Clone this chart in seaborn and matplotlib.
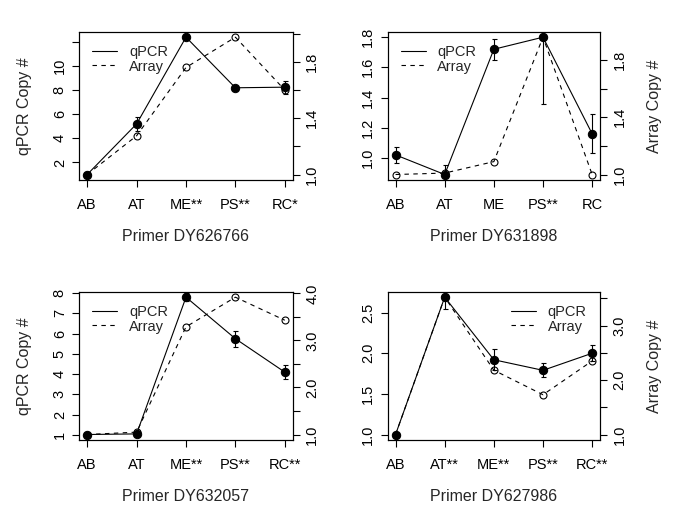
import numpy as np
import pandas as pd
import matplotlib
matplotlib.use("Agg")
import matplotlib.pyplot as plt
from matplotlib.lines import Line2D
import seaborn as sns

sns.set_style("white")
plt.rcParams['font.family'] = ['Liberation Sans', 'DejaVu Sans']

# ---------------- data ----------------
groups = ["AB", "AT", "ME", "PS", "RC"]

titles = ["Primer DY626766", "Primer DY631898", "Primer DY632057", "Primer DY627986"]

xlabels_1 = ["AB", "AT", "ME**", "PS**", "RC*"]
xlabels_2 = ["AB", "AT", "ME", "PS**", "RC"]
xlabels_3 = ["AB", "AT", "ME**", "PS**", "RC**"]
xlabels_4 = ["AB", "AT**", "ME**", "PS**", "RC**"]

qpcr_1 = [1.0, 5.2, 12.4, 8.2, 8.25]
qpcr_se_1 = [0.02, 0.6, 0.25, 0.1, 0.55]
array_1 = [1.0, 1.275, 1.76, 1.975, 1.6]

qpcr_2 = [1.02, 0.89, 1.72, 1.80, 1.16]
qpcr_se_2 = [0.055, 0.06, 0.07, 0.44, 0.13]
array_2 = [1.0, 1.01, 1.09, 1.96, 1.0]

qpcr_3 = [1.02, 1.05, 7.8, 5.75, 4.1]
qpcr_se_3 = [0.03, 0.1, 0.2, 0.4, 0.33]
array_3 = [1.0, 1.05, 3.29, 3.92, 3.43]

qpcr_4 = [1.0, 2.69, 1.92, 1.79, 2.0]
qpcr_se_4 = [0.01, 0.14, 0.13, 0.085, 0.1]
array_4 = [1.0, 3.52, 2.18, 1.73, 2.35]

# axis ticks and their labels ('' = tick without label)
lticks_1 = [2, 4, 6, 8, 10, 12]
lticklabels_1 = ["2", "4", "6", "8", "10", ""]
rticks_1 = [1.0, 1.2, 1.4, 1.6, 1.8, 2.0]
rticklabels_1 = ["1.0", "", "1.4", "", "1.8", ""]

lticks_2 = [1.0, 1.2, 1.4, 1.6, 1.8]
lticklabels_2 = ["1.0", "1.2", "1.4", "1.6", "1.8"]
rticks_2 = [1.0, 1.2, 1.4, 1.6, 1.8]
rticklabels_2 = ["1.0", "", "1.4", "", "1.8"]

lticks_3 = [1, 2, 3, 4, 5, 6, 7, 8]
lticklabels_3 = ["1", "2", "3", "4", "5", "6", "7", "8"]
rticks_3 = [1.0, 1.5, 2.0, 2.5, 3.0, 3.5, 4.0]
rticklabels_3 = ["1.0", "", "2.0", "", "3.0", "", "4.0"]

lticks_4 = [1.0, 1.5, 2.0, 2.5]
lticklabels_4 = ["1.0", "1.5", "2.0", "2.5"]
rticks_4 = [1.0, 1.5, 2.0, 2.5, 3.0, 3.5]
rticklabels_4 = ["1.0", "", "2.0", "", "3.0", ""]

left_label = [True, False, True, False]
right_label = [False, True, False, True]
legend_loc = ["upper left", "upper left", "upper left", "upper right"]

panels = [
    (xlabels_1, qpcr_1, qpcr_se_1, array_1, lticks_1, lticklabels_1, rticks_1, rticklabels_1),
    (xlabels_2, qpcr_2, qpcr_se_2, array_2, lticks_2, lticklabels_2, rticks_2, rticklabels_2),
    (xlabels_3, qpcr_3, qpcr_se_3, array_3, lticks_3, lticklabels_3, rticks_3, rticklabels_3),
    (xlabels_4, qpcr_4, qpcr_se_4, array_4, lticks_4, lticklabels_4, rticks_4, rticklabels_4),
]

# ---------------- layout ----------------
W, H = 680, 520
boxes = [(79.3, 31.7, 292.7, 180), (387.7, 31.7, 600, 180),
         (79.3, 291.7, 292.7, 440), (387.7, 291.7, 600, 440)]

fig = plt.figure(figsize=(6.8, 5.2), dpi=100)
fig.patch.set_facecolor("white")

TICK_FS = 10.5
LAB_FS = 11.5
LEG_FS = 10.5
LW = 0.8


def padded(vals):
    lo, hi = min(vals), max(vals)
    d = (hi - lo) * 0.04
    return lo - d, hi + d


for i, (xl, q, qse, arr, lt, ltl, rt, rtl) in enumerate(panels):
    x0, y0, x1, y1 = boxes[i]
    ax = fig.add_axes([x0 / W, 1 - y1 / H, (x1 - x0) / W, (y1 - y0) / H])
    ax2 = ax.twinx()
    xpos = np.arange(1, len(groups) + 1)
    df = pd.DataFrame({"x": xpos, "qpcr": q, "se": qse, "array": arr, "group": groups})

    sns.lineplot(data=df, x="x", y="qpcr", ax=ax, color="black", lw=LW,
                 marker="o", markersize=6, markeredgecolor="black",
                 markerfacecolor="black", errorbar=None, sort=False)
    ax.errorbar(df["x"], df["qpcr"], yerr=df["se"], fmt="none", ecolor="black",
                elinewidth=LW, capsize=1.8, capthick=LW)
    sns.lineplot(data=df, x="x", y="array", ax=ax2, color="black", lw=LW,
                 linestyle=(0, (4, 4)), marker="o", markersize=5,
                 fillstyle="none", markeredgecolor="black", markeredgewidth=0.8,
                 errorbar=None, sort=False)

    ax.set_xlim(0.84, 5.16)
    ax.set_ylim(*padded(q))
    ax2.set_ylim(*padded(arr))

    ax.set_xticks(xpos)
    ax.set_xticklabels(xl)
    ax.set_yticks(lt)
    ax.set_yticklabels(ltl)
    ax2.set_yticks(rt)
    ax2.set_yticklabels(rtl)

    for a in (ax, ax2):
        for s in a.spines.values():
            s.set_visible(True)
            s.set_color("black")
            s.set_linewidth(LW)
        a.grid(False)
    ax.tick_params(axis="x", bottom=True, top=False, direction="out", length=5,
                   width=LW, pad=8, labelsize=TICK_FS, colors="black")
    ax.tick_params(axis="y", left=True, right=False, direction="out", length=5,
                   width=LW, pad=4, labelsize=TICK_FS, labelrotation=90, colors="black")
    ax2.tick_params(axis="y", left=False, right=True, direction="out", length=5,
                    width=LW, pad=4, labelsize=TICK_FS, labelrotation=90, colors="black")
    for t in ax.get_yticklabels() + ax2.get_yticklabels():
        t.set_va("center")

    ax.set_xlabel(titles[i], fontsize=LAB_FS, va="center")
    ax.xaxis.set_label_coords(0.5, -56.7 / (y1 - y0))
    if left_label[i]:
        ax.set_ylabel("qPCR Copy #", fontsize=LAB_FS, va="center")
        ax.yaxis.set_label_coords(-54.3 / (x1 - x0), 0.5)
    else:
        ax.set_ylabel("")
    if right_label[i]:
        ax2.set_ylabel("Array Copy #", fontsize=LAB_FS, va="center")
        ax2.yaxis.set_label_coords(1 + 55 / (x1 - x0), 0.5)
    else:
        ax2.set_ylabel("")

    handles = [Line2D([0], [0], color="black", lw=LW),
               Line2D([0], [0], color="black", lw=LW, linestyle=(0, (4, 4)))]
    ax2.legend(handles, ["qPCR", "Array"], loc=legend_loc[i], frameon=False,
               fontsize=LEG_FS, handlelength=1.7, handletextpad=0.8,
               labelspacing=0.05, borderaxespad=0.5)

fig.savefig("out.png", dpi=100, facecolor="white")
